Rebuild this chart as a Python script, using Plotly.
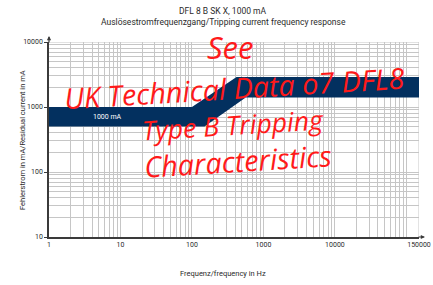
import math
import plotly.graph_objects as go

# Data
band_freq = [1, 100, 420, 150000, 150000, 565, 150, 1]
band_current = [1000, 1000, 2900, 2900, 1400, 1400, 500, 500]
band_label = "1000 mA"
label_freq, label_current = 6.5, 690

x_tick_vals = [1, 10, 100, 1000, 10000, 150000]
x_tick_text = ["1", "10", "100", "1000", "10000", "150000"]
y_tick_vals = [10, 100, 1000, 10000]
y_tick_text = ["10", "100", "1000", "10000"]

x_minor = [m * 10 ** k for k in range(0, 5) for m in range(2, 10)] + [100000]
y_minor = [m * 10 ** k for k in range(1, 4) for m in range(2, 10)]

title_1 = "DFL 8 B SK X, 1000 mA"
title_2 = "Auslösestromfrequenzgang/Tripping current frequency response"
x_title = "Frequenz/frequency in Hz"
y_title = "Fehlerstrom in mA/Residual current in mA"

watermark = ["See", "UK Technical Data o7 DFL8", "Type B Tripping", "Characteristics"]

navy = "#03305f"
grid = "#c6c6c6"
axis_col = "#3a3a3a"
text_col = "#2b2b2b"
red = "#ff1a1a"

W, H = 433, 285
L, R, T, B = 49, 14, 42, 48
PW, PH = W - L - R, H - T - B


def px(x):
    return (x - L) / PW


def py(y):
    return (H - B - y) / PH


fig = go.Figure()
fig.add_trace(go.Scatter(
    x=band_freq, y=band_current, mode="lines", fill="toself",
    fillcolor=navy, line=dict(color=navy, width=0), hoverinfo="skip",
    showlegend=False,
))

# annotations on log axes take log10 coordinates
fig.add_annotation(x=math.log10(label_freq), y=math.log10(label_current), xref="x", yref="y",
                   text=band_label, showarrow=False, xanchor="center", yanchor="middle",
                   font=dict(family="Roboto", size=7, color="white"))

fig.update_layout(
    width=W, height=H,
    margin=dict(l=L, r=R, t=T, b=B, autoexpand=False),
    paper_bgcolor="white", plot_bgcolor="white",
    showlegend=False,
)

fig.update_xaxes(
    type="log", range=[0, 5.1761], tickmode="array",
    tickvals=x_tick_vals, ticktext=x_tick_text,
    showgrid=True, gridcolor=grid, gridwidth=1,
    minor=dict(tickmode="array", tickvals=x_minor, showgrid=True,
               gridcolor=grid, gridwidth=1, ticks=""),
    showline=True, linecolor=axis_col, linewidth=1.5,
    ticks="", tickfont=dict(family="Roboto", size=7, color=text_col),
    zeroline=False, automargin=False,
)
fig.update_yaxes(
    type="log", range=[1, 4], tickmode="array",
    tickvals=y_tick_vals, ticktext=y_tick_text,
    showgrid=True, gridcolor=grid, gridwidth=1,
    minor=dict(tickmode="array", tickvals=y_minor, showgrid=True,
               gridcolor=grid, gridwidth=1, ticks=""),
    showline=True, linecolor=axis_col, linewidth=1.5,
    ticks="outside", ticklen=3, tickcolor=axis_col,
    tickfont=dict(family="Roboto", size=7, color=text_col),
    zeroline=False, automargin=False,
)


def label(x0, y0, txt, size, angle=0, family="Roboto", color=text_col, style="normal",
          weight="normal"):
    fig.add_annotation(x=px(x0), y=py(y0), xref="paper", yref="paper",
                       text=txt, showarrow=False, textangle=angle,
                       xanchor="center", yanchor="middle",
                       font=dict(family=family, size=size, color=color, style=style,
                                 weight=weight))


# titles
label(223, 11, title_1, 8.5)
label(223, 22, title_2, 8.5)
label(223, 273, x_title, 7.5)
label(22, 140, y_title, 7.5, angle=-90)

# right boundary / top boundary gridlines
fig.add_shape(type="line", xref="x", yref="paper", x0=150000, x1=150000, y0=0, y1=1,
              line=dict(color=grid, width=1), layer="below")
fig.add_shape(type="line", xref="paper", yref="y", x0=0, x1=1, y0=10000, y1=10000,
              line=dict(color=grid, width=1), layer="below")

# axis arrows
fig.add_annotation(x=0, y=py(36), xref="paper", yref="paper", ax=0, ay=8, text="",
                   showarrow=True, arrowhead=2, arrowsize=0.7, arrowwidth=1.2,
                   arrowcolor=axis_col)
fig.add_annotation(x=px(425), y=0, xref="paper", yref="paper", ax=-8, ay=0, text="",
                   showarrow=True, arrowhead=2, arrowsize=0.7, arrowwidth=1.2,
                   arrowcolor=axis_col)

# watermark
wm_pos = [(230, 47, 0, 31), (234, 87, -3.5, 28.8), (233, 125, -3.5, 26.6),
          (238, 160, -3.5, 28.8)]
for txt, (x0, y0, ang, sz) in zip(watermark, wm_pos):
    label(x0, y0, txt, sz, angle=ang, family="Open Sans", color=red, style="italic")

fig.write_html("out.html", config={"displayModeBar": False},
               post_script="document.body.style.margin='0';document.body.style.overflow='hidden';")
